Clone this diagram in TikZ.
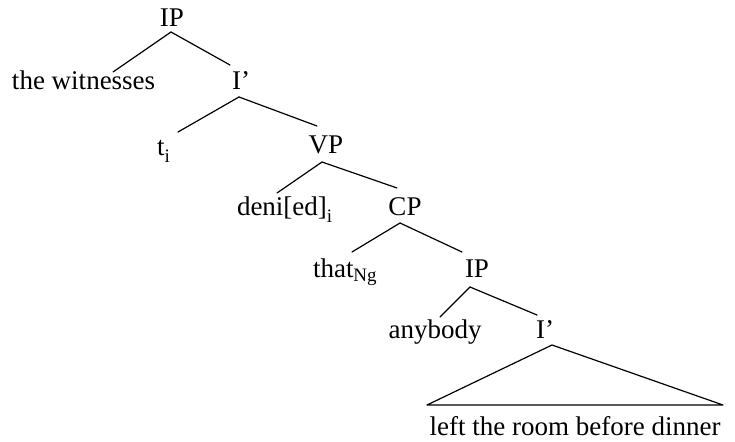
\documentclass[tikz,border=0pt]{standalone}
\usepackage{fontspec}
\setmainfont{Liberation Serif}
\usetikzlibrary{calc}
% lowered small-size subscript attached to a word
\newcommand\lowsub[2]{\raisebox{-#1}{\fontsize{19}{19}\selectfont #2}}
\begin{document}
\begin{tikzpicture}[x=1pt,y=-1pt,
  lbl/.style={inner sep=0pt,outer sep=0pt,font=\fontsize{27}{27}\selectfont},
  branch/.style={line width=1.2pt,line cap=round,line join=round}]
\useasboundingbox (0,0) rectangle (735,441);

% labels of the tree
\node[lbl,anchor=base]      (ipA)  at (172,27)  {IP};
\node[lbl,anchor=base west] (wit)  at (12,90)   {the witnesses};
\node[lbl,anchor=base]      (ibA)  at (241,90)  {I’};
\node[lbl,anchor=base west] (tr)   at (157,155) {t\lowsub{7pt}{i}};
\node[lbl,anchor=base]      (vp)   at (326,153) {VP};
\node[lbl,anchor=base west] (deni) at (237,215) {deni[ed]\lowsub{7pt}{i}};
\node[lbl,anchor=base]      (cp)   at (405,215) {CP};
\node[lbl,anchor=base west] (that) at (313,277) {that\lowsub{4pt}{Ng}};
\node[lbl,anchor=base]      (ipB)  at (477,277) {IP};
\node[lbl,anchor=base]      (any)  at (435,338) {anybody};
\node[lbl,anchor=base]      (ibB)  at (545,338) {I’};
\node[lbl,anchor=base]      (left) at (575,435) {left the room before dinner};

% branches
\draw[branch] ($(ipA.base)+(-1,5)$) -- ($(wit.base west)+(101,-18)$);
\draw[branch] ($(ipA.base)+(-1,5)$) -- ($(ibA.base)+(-11,-25)$);
\draw[branch] ($(ibA.base)+(-2,7)$) -- ($(tr.base west)+(21,-23)$);
\draw[branch] ($(ibA.base)+(-2,7)$) -- ($(vp.base)+(-9,-27)$);
\draw[branch] ($(vp.base)+(-4,9)$)  -- ($(deni.base west)+(40,-22)$);
\draw[branch] ($(vp.base)+(-4,9)$)  -- ($(cp.base)+(-8,-27)$);
\draw[branch] ($(cp.base)+(-5,8)$)  -- ($(that.base west)+(39,-25)$);
\draw[branch] ($(cp.base)+(-5,8)$)  -- ($(ipB.base)+(-15,-25)$);
\draw[branch] ($(ipB.base)+(-7,10)$) -- ($(any.base)+(5,-21)$);
\draw[branch] ($(ipB.base)+(-7,10)$) -- ($(ibB.base)+(-8,-23)$);

% triangle over the unanalysed phrase
\draw[branch] ($(ibB.base)+(7,7)$) -- ($(left.base)+(-148,-30)$)
  -- ($(left.base)+(148,-30)$) -- cycle;
\end{tikzpicture}
\end{document}
